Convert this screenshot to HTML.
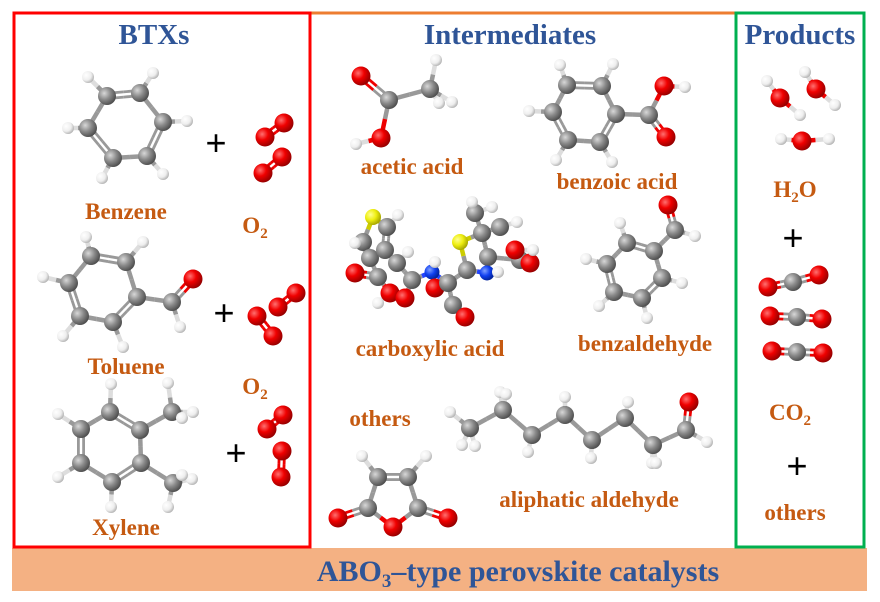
<!DOCTYPE html>
<html><head><meta charset="utf-8">
<style>
html,body{margin:0;padding:0;background:#fff;}
svg{display:block;}
.t{font-family:"Liberation Serif",serif;font-weight:bold;}
.ti{fill:#2f5597;font-size:29px;}
.lb{fill:#c55a11;font-size:23px;}
.pl{font-family:"Liberation Sans",sans-serif;font-size:36px;fill:#000;}
</style></head>
<body>
<svg id="s" width="880" height="602" viewBox="0 0 880 602" xmlns="http://www.w3.org/2000/svg">
<defs>
<radialGradient id="gC" cx="35%" cy="35%" r="70%"><stop offset="0" stop-color="#d8d8d8"/><stop offset="0.5" stop-color="#8a8a8a"/><stop offset="1" stop-color="#4a4a4a"/></radialGradient>
<radialGradient id="gO" cx="35%" cy="35%" r="70%"><stop offset="0" stop-color="#ff7070"/><stop offset="0.45" stop-color="#f00000"/><stop offset="1" stop-color="#900000"/></radialGradient>
<radialGradient id="gH" cx="35%" cy="35%" r="70%"><stop offset="0" stop-color="#ffffff"/><stop offset="0.6" stop-color="#eeeeee"/><stop offset="1" stop-color="#b0b0b0"/></radialGradient>
<radialGradient id="gS" cx="35%" cy="35%" r="70%"><stop offset="0" stop-color="#ffff90"/><stop offset="0.5" stop-color="#eeee10"/><stop offset="1" stop-color="#a0a000"/></radialGradient>
<radialGradient id="gN" cx="35%" cy="35%" r="70%"><stop offset="0" stop-color="#80a0ff"/><stop offset="0.5" stop-color="#1040f0"/><stop offset="1" stop-color="#002090"/></radialGradient>
</defs>
<rect x="12" y="548" width="855" height="43" fill="#f4b183"/>
<line x1="310" y1="13" x2="736" y2="13" stroke="#ed7d31" stroke-width="3"/>
<rect x="14" y="13" width="296" height="534" fill="none" stroke="#ff0000" stroke-width="3"/>
<rect x="736" y="13" width="128" height="534" fill="none" stroke="#00b050" stroke-width="3"/>
<g id="mol"></g>
<text class="t ti" x="154" y="44" text-anchor="middle">BTXs</text>
<text class="t ti" x="510" y="44" text-anchor="middle">Intermediates</text>
<text class="t ti" x="800" y="44" text-anchor="middle">Products</text>
<text class="t lb" x="126" y="219" text-anchor="middle">Benzene</text>
<text class="t lb" x="255" y="233" text-anchor="middle">O<tspan font-size="15" dy="5">2</tspan></text>
<text class="t lb" x="126" y="374" text-anchor="middle">Toluene</text>
<text class="t lb" x="255" y="394" text-anchor="middle">O<tspan font-size="15" dy="5">2</tspan></text>
<text class="t lb" x="126" y="535" text-anchor="middle">Xylene</text>
<text class="pl" x="216" y="155" text-anchor="middle">+</text>
<text class="pl" x="224" y="325" text-anchor="middle">+</text>
<text class="pl" x="236" y="465" text-anchor="middle">+</text>
<text class="t lb" x="412" y="174" text-anchor="middle">acetic acid</text>
<text class="t lb" x="617" y="189" text-anchor="middle">benzoic acid</text>
<text class="t lb" x="430" y="356" text-anchor="middle">carboxylic acid</text>
<text class="t lb" x="645" y="351" text-anchor="middle">benzaldehyde</text>
<text class="t lb" x="380" y="426" text-anchor="middle">others</text>
<text class="t lb" x="589" y="507" text-anchor="middle">aliphatic aldehyde</text>
<text class="t lb" x="795" y="197" text-anchor="middle">H<tspan font-size="15" dy="5">2</tspan><tspan dy="-5">O</tspan></text>
<text class="pl" x="793" y="250" text-anchor="middle">+</text>
<text class="t lb" x="790" y="420" text-anchor="middle">CO<tspan font-size="15" dy="5">2</tspan></text>
<text class="pl" x="797" y="478" text-anchor="middle">+</text>
<text class="t lb" x="795" y="520" text-anchor="middle">others</text>
<text class="t" x="518" y="581" text-anchor="middle" fill="#2f5597" font-size="30">ABO<tspan font-size="19" dy="6">3</tspan><tspan dy="-6">–type perovskite catalysts</tspan></text>
</svg>
<script>
(function(){
var g=document.getElementById('mol'),NS='http://www.w3.org/2000/svg';
var bonds=[],atoms=[];
function mol(A,B){
  B.forEach(function(b){var a=A[b[0]],c=A[b[1]];bonds.push([a[1],a[2],c[1],c[2],b[2],a[0],c[0]]);});
  A.forEach(function(a){atoms.push(a);});
}
var R={C:9,O:9.5,H:6,S:8,N:7.5},F={C:'url(#gC)',O:'url(#gO)',H:'url(#gH)',S:'url(#gS)',N:'url(#gN)'};
var BC={C:'#999',O:'#e00',H:'#ddd',S:'#cc0',N:'#24f'};
function ring(A,s){var B=[];for(var i=0;i<6;i++)B.push([s+i,s+(i+1)%6,i%2==0]);return B;}
mol([['C',107,96],['C',140,93],['C',163,122],['C',147,156],['C',113,158],['C',88,128],
['H',88,77],['H',153,73],['H',187,121],['H',163,174],['H',102,178],['H',68,128]],
ring(0,0).concat([[0,6],[1,7],[2,8],[3,9],[4,10],[5,11]]));
function o2(x1,y1,x2,y2){mol([['O',x1,y1],['O',x2,y2]],[[0,1,true]]);}
o2(265,137,284,123);o2(263,173,282,157);
o2(257,316,273,336);o2(278,307,296,293);
o2(267,429,283,415);o2(282,451,281,477);
mol([['C',91,256],['C',126,262],['C',137,297],['C',113,322],['C',80,316],['C',69,283],
['C',172,302],['O',193,279],['H',180,327],
['H',86,237],['H',143,242],['H',43,277],['H',63,336],['H',123,347]],
ring(0,0).concat([[2,6],[6,7,true],[6,8],[0,9],[1,10],[5,11],[4,12],[3,13]]));
mol([['C',110,412],['C',140,430],['C',141,463],['C',112,482],['C',81,463],['C',81,429],
['C',172,412],['H',168,383],['H',193,412],['H',182,418],
['C',173,483],['H',192,479],['H',168,507],['H',182,475],
['H',111,384],['H',58,414],['H',58,477],['H',111,507]],
ring(0,0).concat([[1,6],[6,7],[6,8],[6,9],[2,10],[10,11],[10,12],[10,13],[0,14],[5,15],[4,16],[3,17]]));
mol([['O',361,76],['C',389,100],['C',430,89],['O',381,138],['H',356,144],['H',436,60],['H',452,102],['H',439,103]],
[[0,1,true],[1,2],[1,3],[3,4],[2,5],[2,6],[2,7]]);
mol([['C',567,85],['C',602,86],['C',616,114],['C',600,142],['C',568,140],['C',553,112],
['C',649,115],['O',664,86],['O',666,137],['H',685,87],
['H',560,65],['H',613,64],['H',529,111],['H',556,160],['H',612,162]],
ring(0,0).concat([[2,6],[6,7],[6,8,true],[7,9],[0,10],[1,11],[5,12],[4,13],[3,14]]));
mol([['C',627,243],['C',654,251],['C',662,278],['C',642,298],['C',614,292],['C',607,264],
['C',675,230],['O',668,205],['H',695,236],
['H',620,223],['H',586,259],['H',599,306],['H',647,318],['H',682,283]],
ring(0,0).concat([[1,6],[6,7,true],[6,8],[0,9],[5,10],[4,11],[3,12],[2,13]]));
mol([['S',373,217],['C',387,227],['C',363,242],['C',370,258],['C',385,250],['C',397,263],['C',378,277],
['O',355,273],['O',390,293],['C',412,280],['O',405,298],['N',432,272],['O',435,288],['C',448,283],
['C',467,270],['S',460,242],['C',482,233],['C',475,213],['C',500,227],['C',488,257],['N',487,273],
['C',520,260],['O',515,250],['O',530,263],['C',453,305],['O',465,317],
['H',355,243],['H',398,215],['H',408,252],['H',435,262],['H',378,303],['H',472,202],['H',492,207],['H',517,222],['H',533,250],['H',498,272]],
[[0,1],[1,4,true],[0,2],[2,3,true],[3,4],[4,5],[3,6],[6,7,true],[6,8],[5,9],[9,10],[9,11],[11,12],[11,13],
[13,14],[14,15],[15,16],[16,17],[16,18],[16,19],[19,20],[20,14],[19,21],[21,22],[21,23,true],[13,24],[24,25,true],
[2,26],[1,27],[5,28],[11,29],[8,30],[17,31],[17,32],[18,33],[22,34],[20,35]]);
mol([['C',378,477],['C',408,477],['C',368,508],['C',418,508],['O',393,527],['O',338,518],['O',448,518],['H',362,456],['H',426,456]],
[[0,1,true],[0,2],[1,3],[2,4],[3,4],[2,5,true],[3,6,true],[0,7],[1,8]]);
var ch=[[470,428],[503,410],[532,435],[565,415],[592,440],[625,418],[653,445],[686,430]];
var A=ch.map(function(p){return['C',p[0],p[1]];}),B=[];
for(var i=0;i<7;i++)B.push([i,i+1]);
A.push(['O',689,402]);B.push([7,8,true]);
var hs=[[450,412,0],[462,445,0],[475,446,0],[500,392,1],[506,394,1],[528,452,2],[565,397,3],[591,458,4],[628,402,5],[652,463,6],[656,463,6],[707,442,7]];
hs.forEach(function(h){A.push(['H',h[0],h[1]]);B.push([h[2],A.length-1]);});
mol(A,B);
function w(h1x,h1y,ox,oy,h2x,h2y){mol([['H',h1x,h1y],['O',ox,oy],['H',h2x,h2y]],[[0,1],[1,2]]);}
w(767,81,780,98,800,115);w(805,72,816,89,835,105);w(781,139,802,141,829,139);
function co2(a,b,c,d,e,f){mol([['O',a,b],['C',c,d],['O',e,f]],[[0,1,true],[1,2,true]]);}
co2(768,287,793,282,819,275);co2(770,316,797,317,822,319);co2(772,351,797,352,823,353);

function el(n,at){var e=document.createElementNS(NS,n);for(var k in at)e.setAttribute(k,at[k]);g.appendChild(e);return e;}
bonds.forEach(function(b){
  var x1=b[0],y1=b[1],x2=b[2],y2=b[3],mx=(x1+x2)/2,my=(y1+y2)/2;
  var dx=x2-x1,dy=y2-y1,L=Math.sqrt(dx*dx+dy*dy)||1,nx=-dy/L*2.6,ny=dx/L*2.6;
  var offs=b[4]?[-1,1]:[0];var wd=b[4]?2.8:4.5;
  offs.forEach(function(o){
    el('line',{x1:x1+nx*o,y1:y1+ny*o,x2:mx+nx*o,y2:my+ny*o,stroke:BC[b[5]],'stroke-width':wd});
    el('line',{x1:mx+nx*o,y1:my+ny*o,x2:x2+nx*o,y2:y2+ny*o,stroke:BC[b[6]],'stroke-width':wd});
  });
});
atoms.forEach(function(a){el('circle',{cx:a[1],cy:a[2],r:R[a[0]],fill:F[a[0]]});});
})();
</script>
</body></html>
